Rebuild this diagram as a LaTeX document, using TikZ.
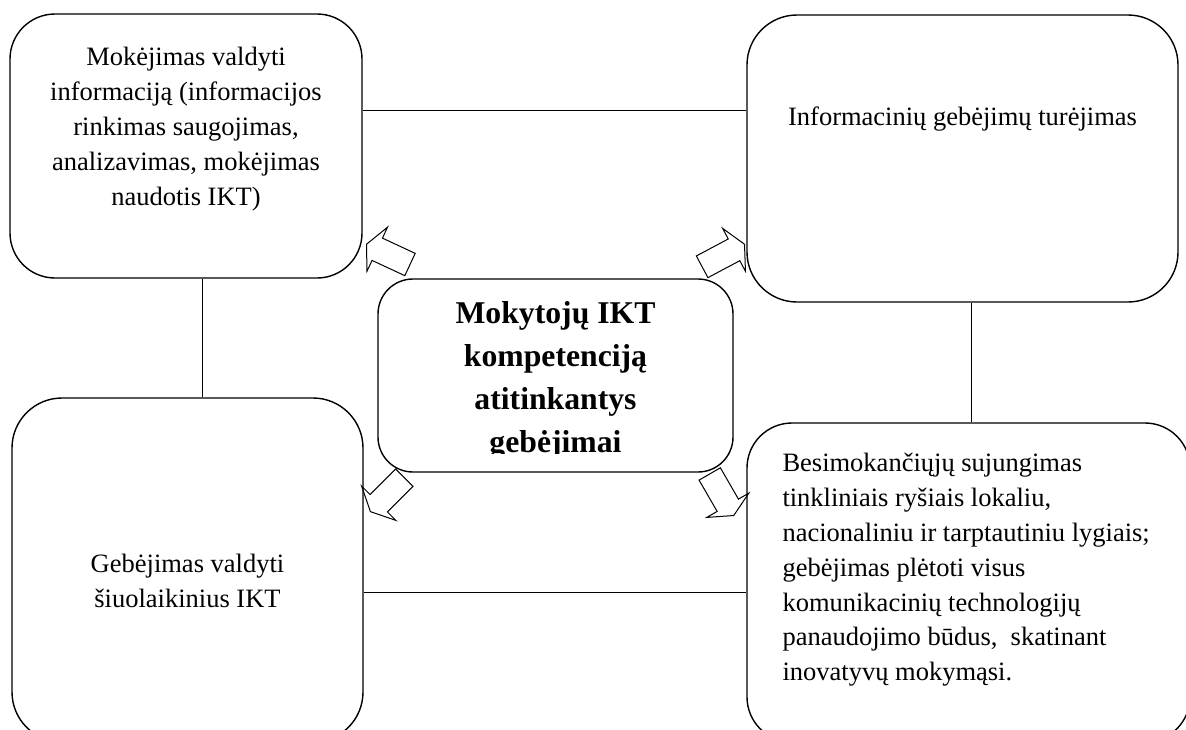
\documentclass[tikz,border=0pt]{standalone}
\usepackage{fontspec}
\setmainfont{Liberation Serif}
\usetikzlibrary{positioning,shapes.arrows}
\tikzset{
  box/.style={draw, line width=1.4pt, rounded corners=#1},
  box/.default=45pt,
  boxtext/.style={inner sep=0pt, align=center, font=\fontsize{26.5}{34.8}\selectfont},
  link/.style={line width=1pt},
  blockarrow/.style={draw, line width=1pt, single arrow, anchor=tip,
    minimum height=48pt, inner xsep=0pt, inner ysep=11.8pt,
    single arrow head extend=12pt, single arrow tip angle=128},
}
\begin{document}
\begin{tikzpicture}[x=1pt,y=-1pt]
\clip (0,0) rectangle (1186,729);
% Draw boxes
\node[box=45pt, minimum width=352pt, minimum height=264pt] (tl) at (186,146) {};
\node[box=50pt, minimum width=431pt, minimum height=287pt] (tr) at (962.5,158.5) {};
\node[box=35pt, minimum width=355pt, minimum height=193pt] (ctr) at (555.5,375.5) {};
\node[box=50pt, minimum width=351pt, minimum height=344pt] (bl) at (187.5,570) {};
\node[box=45pt, minimum width=443pt, minimum height=319pt] (br) at (968.5,582.5) {};
% Box texts
\node[boxtext, below=34pt of tl.north] (tltext)
  {Mokėjimas valdyti\\informaciją (informacijos\\rinkimas saugojimas,\\analizavimas, mokėjimas\\naudotis IKT)};
\node[boxtext, below=92pt of tr.north] (trtext) {Informacinių gebėjimų turėjimas};
\node[boxtext, below=157pt of bl.north] (bltext) {Gebėjimas valdyti\\šiuolaikinius IKT};
\node[boxtext, align=left, below right=31pt and 36pt of br.north west] (brtext)
  {Besimokančiųjų sujungimas\\tinkliniais ryšiais lokaliu,\\nacionaliniu ir tarptautiniu lygiais;\\gebėjimas plėtoti visus\\komunikacinių technologijų\\panaudojimo būdus, \ skatinant\\inovatyvų mokymąsi.};
\begin{scope}
\clip (ctr.north west) rectangle ([yshift=19pt]ctr.south east);
\node[boxtext, font=\bfseries\fontsize{31.7}{43}\selectfont, below=23pt of ctr.north] (ctrtext)
  {Mokytojų IKT\\kompetenciją\\atitinkantys\\gebėjimai};
\end{scope}
% Connecting lines
\coordinate (tltr) at ([yshift=36pt]tl.east);
\coordinate (tlbl) at ([xshift=16pt]tl.south);
\coordinate (trbr) at ([xshift=8.5pt]tr.south);
\coordinate (blbr) at ([yshift=-22pt]bl.east);
\draw[link] (tltr) -- (tltr -| tr.west);
\draw[link] (tlbl) -- (tlbl |- bl.north);
\draw[link] (trbr) -- (trbr |- br.north);
\draw[link] (blbr) -- (blbr -| br.west);
% Block arrows
\node[blockarrow, rotate=155] (arrtl) at (366,244) {};
\node[blockarrow, rotate=28] (arrtr) at (745,244) {};
\node[blockarrow, rotate=225] (arrbl) at (370,512) {};
\node[blockarrow, rotate=-60] (arrbr) at (734,516) {};
\end{tikzpicture}
\end{document}
